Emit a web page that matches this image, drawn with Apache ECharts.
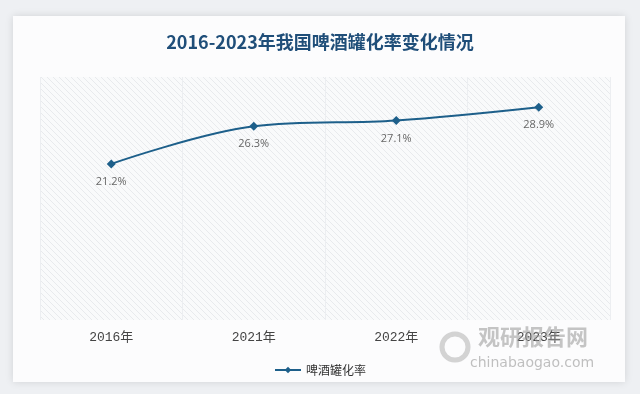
<!DOCTYPE html>
<html><head><meta charset="utf-8">
<script src="https://cdn.jsdelivr.net/npm/echarts@6/dist/echarts.min.js"></script>
<style>html,body{margin:0;padding:0;background:#eef0f3;}#c{width:640px;height:394px;}</style>
</head><body><div id="c"></div>
<script>
const categories = ['2016年','2021年','2022年','2023年'];
const canRate = [21.2, 26.3, 27.1, 28.9];
const seriesName = '啤酒罐化率';

const pc = document.createElement('canvas');
pc.width = 6; pc.height = 6;
const g = pc.getContext('2d');
g.fillStyle = '#f9fafb'; g.fillRect(0,0,6,6);
g.strokeStyle = '#e8eaed'; g.lineWidth = 1;
g.beginPath(); g.moveTo(0,0); g.lineTo(6,6); g.moveTo(-3,3); g.lineTo(3,9); g.moveTo(3,-3); g.lineTo(9,3); g.stroke();

const chart = echarts.init(document.getElementById('c'));
chart.setOption({
  backgroundColor: '#eef0f3',
  animation: false,
  graphic: [
    {type:'rect', z:-10, shape:{x:13,y:16,width:612,height:366}, style:{fill:'#fcfcfd', shadowBlur:8, shadowColor:'rgba(0,0,0,0.12)'}},
    {type:'text', left:478, top:326, z:10, style:{text:'观研报告网', fill:'rgba(150,150,150,0.55)', font:'bold 22px "Noto Sans CJK SC"'}},
    {type:'text', left:470, top:356, z:10, style:{text:'chinabaogao.com', fill:'rgba(150,150,150,0.6)', font:'14px "DejaVu Sans"'}},
    {type:'circle', z:10, shape:{cx:455,cy:347,r:13}, style:{fill:'none', stroke:'rgba(170,170,170,0.5)', lineWidth:5}}
  ],
  title: {
    text: '2016-2023年我国啤酒罐化率变化情况',
    left: 'center', top: 28,
    textStyle: {color:'#1f4e79', fontSize:18, fontWeight:'bold', fontFamily:'"Noto Sans CJK SC"'}
  },
  legend: {
    data:[seriesName], bottom: 13, left:'center',
    itemWidth: 26, itemHeight: 8,
    textStyle:{color:'#333', fontSize:12, fontFamily:'"Noto Sans CJK SC"'}
  },
  grid: {left:40, right:30, top:77, bottom:74, show:true, borderWidth:0,
    backgroundColor:{image:pc, repeat:'repeat'}},
  xAxis: {
    type:'category', data:categories, boundaryGap:true,
    axisLine:{show:false}, axisTick:{show:false},
    axisLabel:{color:'#444', fontSize:13, margin:11, fontFamily:'"Liberation Mono","Noto Sans CJK SC"'},
    splitLine:{show:true, lineStyle:{color:'#eceef1', width:1}}
  },
  yAxis: {type:'value', min:0, max:33, show:false, splitLine:{show:false}},
  series: [{
    name: seriesName, type:'line', data: canRate, smooth:0.35,
    symbol:'diamond', symbolSize:9,
    lineStyle:{color:'#1d5f8a', width:2},
    itemStyle:{color:'#1d5f8a'},
    label:{show:true, position:'bottom', distance:8, formatter:p=>p.value.toFixed(1)+'%', color:'#666', fontSize:11, fontFamily:'"Open Sans"'}
  }]
});
</script></body></html>
